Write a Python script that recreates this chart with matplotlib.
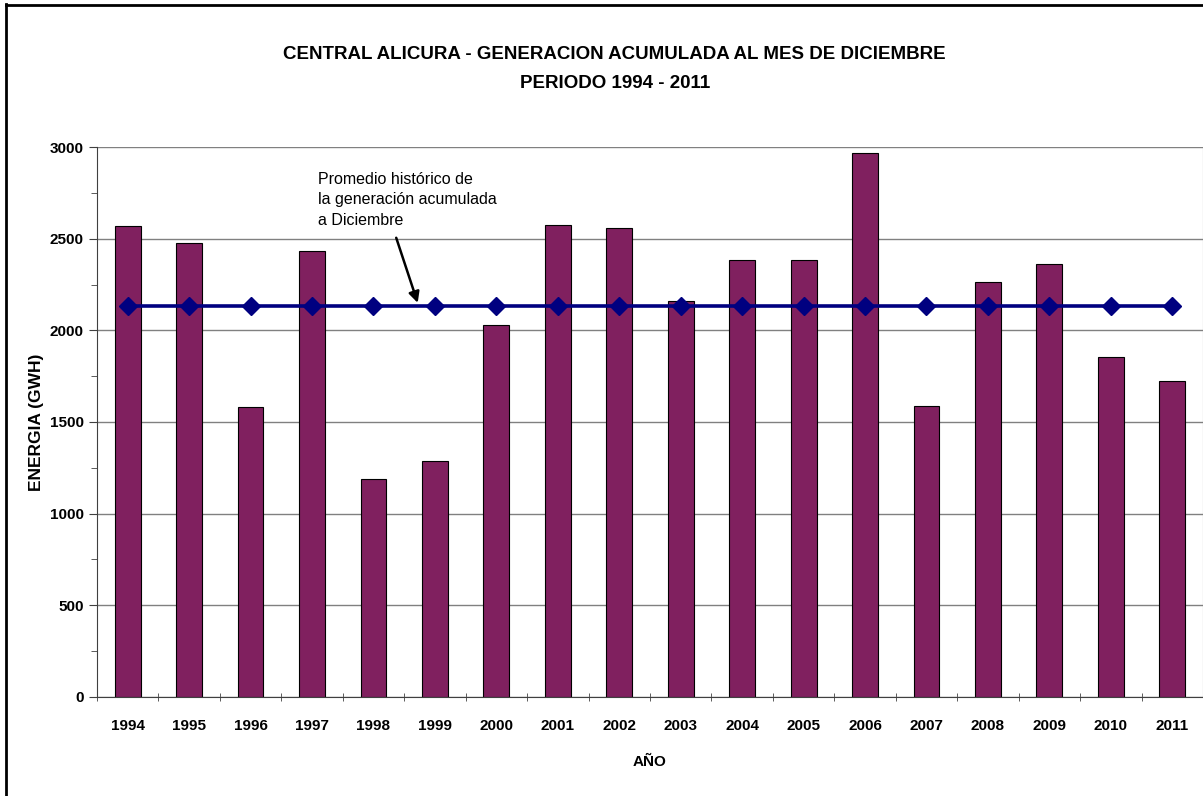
import matplotlib
matplotlib.use("Agg")
import matplotlib.pyplot as plt
from matplotlib.ticker import MultipleLocator
import numpy as np

years = ["1994", "1995", "1996", "1997", "1998", "1999", "2000", "2001", "2002",
         "2003", "2004", "2005", "2006", "2007", "2008", "2009", "2010", "2011"]
energia = [2570, 2475, 1582, 2433, 1189, 1287, 2029, 2575, 2558,
           2160, 2384, 2384, 2967, 1587, 2264, 2362, 1855, 1724]
promedio = [2135] * len(years)

plt.rcParams['font.family'] = ['Liberation Sans', 'DejaVu Sans']

fig = plt.figure(figsize=(12.03, 7.96), dpi=100)
# figure border (left and top visible)
fig.add_artist(plt.Line2D([0.005, 0.005], [0, 0.995], transform=fig.transFigure, color='black', lw=2))
fig.add_artist(plt.Line2D([0.005, 1.0], [0.994, 0.994], transform=fig.transFigure, color='black', lw=2))

ax = fig.add_axes([0.0806, 0.1244, 0.9194, 0.6909])
x = np.arange(len(years))
ax.bar(x, energia, width=0.42, color='#80205f', edgecolor='black', linewidth=0.8, zorder=2)
ax.plot(x, promedio, color='#000080', lw=2.6, marker='D', markersize=9, zorder=3)

ax.set_xlim(-0.5, len(years) - 0.5)
ax.set_ylim(0, 3000)
ax.yaxis.set_major_locator(MultipleLocator(500))
ax.yaxis.set_minor_locator(MultipleLocator(250))
ax.grid(axis='y', which='major', color='#808080', lw=1, zorder=0)
ax.set_axisbelow(True)

ax.set_xticks(x)
ax.set_xticklabels(years, fontsize=11, fontweight='bold')
ax.set_xticks(np.arange(-0.5, len(years)), minor=True)
ax.tick_params(axis='x', which='major', length=0, pad=16)
ax.tick_params(axis='x', which='minor', length=6, direction='inout', color='#404040')
ax.tick_params(axis='y', which='major', length=6, direction='out', labelsize=11, color='#404040')
ax.tick_params(axis='y', which='minor', length=4, direction='out', color='#404040')
for lbl in ax.get_yticklabels():
    lbl.set_fontweight('bold')

ax.spines['top'].set_visible(False)
ax.spines['right'].set_color('#808080')
ax.spines['left'].set_color('#404040')
ax.spines['bottom'].set_color('#404040')

ax.set_ylabel('ENERGIA (GWH)', fontsize=12.5, fontweight='bold', labelpad=4)
ax.set_xlabel('AÑO', fontsize=11, fontweight='bold', labelpad=16)

fig.text(0.511, 0.932, 'CENTRAL ALICURA - GENERACION ACUMULADA AL MES DE DICIEMBRE',
         ha='center', va='center', fontsize=13.5, fontweight='bold')
fig.text(0.511, 0.895, 'PERIODO 1994 - 2011', ha='center', va='center',
         fontsize=13.5, fontweight='bold')

ax.text(3.1, 2865, 'Promedio histórico de\nla generación acumulada\na Diciembre',
        fontsize=11.5, ha='left', va='top', linespacing=1.45, zorder=5)
ax.annotate('', xy=(4.72, 2150), xytext=(4.37, 2505),
            arrowprops=dict(arrowstyle='-|>', color='black', lw=1.8,
                            shrinkA=0, shrinkB=0, mutation_scale=16),
            zorder=5)

fig.savefig('out.png', dpi=100)
